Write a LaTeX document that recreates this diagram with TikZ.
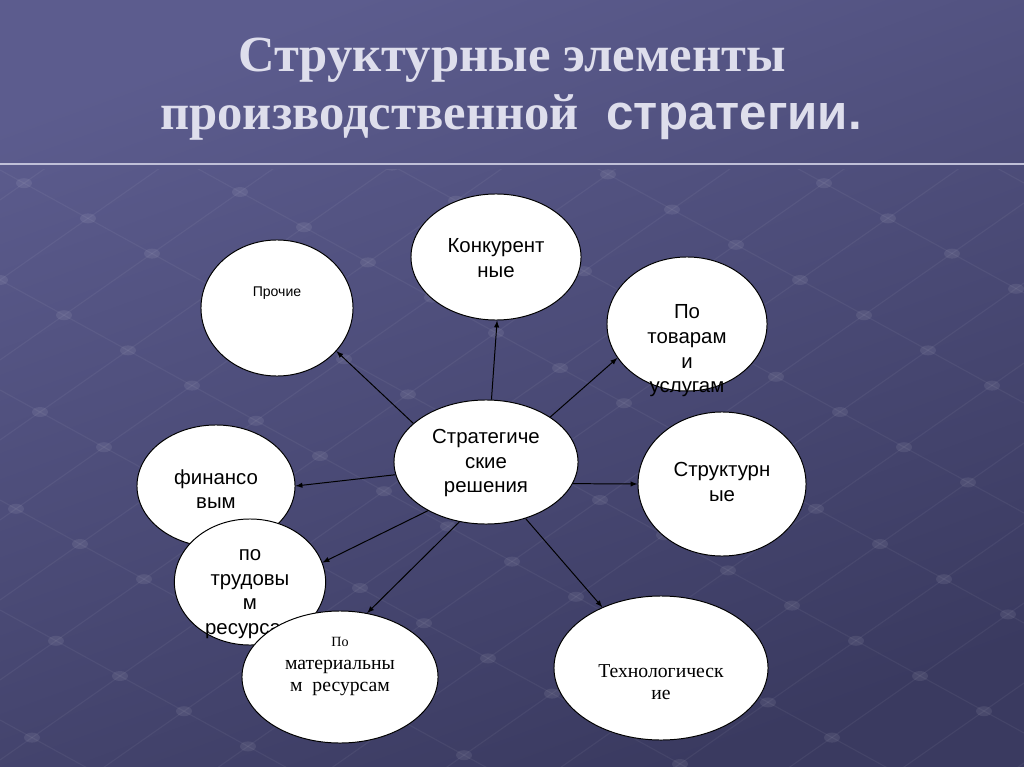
\documentclass[tikz,border=0pt]{standalone}
\usepackage{fontspec}
\setmainfont{Liberation Serif}
\setsansfont{Liberation Sans}
\usetikzlibrary{arrows,shapes,positioning,shapes.geometric}

\definecolor{bgtop}{RGB}{92,92,142}
\definecolor{bgbot}{RGB}{58,58,96}
\definecolor{titlegray}{RGB}{222,222,236}
\definecolor{rulegray}{RGB}{192,192,216}

\tikzset{
  oval/.style={ellipse, draw=black, fill=white, line width=0.7pt, inner sep=0pt},
  lbl/.style={align=center, inner sep=0pt, font=\sffamily\fontsize{14.5}{17.5}\selectfont},
  lblserif/.style={align=center, inner sep=0pt, font=\rmfamily\fontsize{14}{16}\selectfont},
  conn/.style={->, >=latex, line width=0.7pt},
  gridline/.style={white, opacity=0.05, line width=0.8pt},
  griddot/.style={white, opacity=0.08},
  titletext/.style={text=titlegray, inner sep=0pt, font=\rmfamily\bfseries\fontsize{36}{40}\selectfont},
}

\begin{document}
\begin{tikzpicture}[x=0.025cm,y=-0.025cm]
      % background and title
      \shade[top color=bgtop, bottom color=bgbot, shading angle=20] (0,0) rectangle (1024,767);
      \useasboundingbox (0,0) rectangle (1024,767);
      \begin{scope}
        \clip (0,170) rectangle (1024,767);
        \foreach \a in {-900,-790,...,800}
          \draw[gridline] (0,\a+300) -- (1024,\a+300+563);
        \foreach \b in {200,280,...,1700}
          \draw[gridline] (0,\b) -- (1024,\b-717);
        \foreach \a in {-900,-790,...,800}
          \foreach \b in {200,280,...,1700}
            \fill[griddot] ({(\b-\a-300)/1.25},{0.55*(\b-\a-300)/1.25+\a+300}) ellipse (8 and 5);
      \end{scope}
      \node[titletext, anchor=base] (title1) at (512,72) {Структурные элементы};
      \node[titletext, anchor=base west] (title2) at (160,130) {производственной};
      \node[titletext, anchor=base west, font=\sffamily\bfseries\fontsize{35}{38}\selectfont]
        (title3) at ([xshift=0.68cm]title2.base east) {стратегии.};
      \draw[rulegray, line width=1.4pt] (0,164) -- (1024,164);

      % ellipses with their texts
      \node[oval, minimum width=3.8cm, minimum height=3.4cm] (proch) at (277,308) {};
      \node[lbl, font=\sffamily\fontsize{10}{12}\selectfont] (proch-t) at (277,293) {Прочие};
      \node[oval, minimum width=4.25cm, minimum height=3.15cm] (konk) at (496,257) {};
      \node[lbl] (konk-t) at (496,258) {Конкурент\\ные};
      \node[oval, minimum width=4cm, minimum height=3.35cm] (tov) at (687,324) {};
      \node[lbl] (tov-t) at (687,351) {По\\товарам\\и\\услугам};
      \node[oval, minimum width=4.6cm, minimum height=3.1cm] (strat) at (486,462) {};
      \node[lbl] (strat-t) at (486,463) {Стратегиче\\ские\\решения};
      \node[oval, minimum width=4.2cm, minimum height=3.6cm] (struct) at (722,484) {};
      \node[lbl] (struct-t) at (722,482) {Структурн\\ые};
      \node[oval, minimum width=3.95cm, minimum height=3.05cm] (fin) at (216,486) {};
      \node[lbl] (fin-t) at (216,489) {финансо\\вым};
      \node[oval, minimum width=3.78cm, minimum height=3.15cm] (trud) at (250,582) {};
      \node[lbl] (trud-t) at (250,594) {по\\трудовы\\м\\ресурсам};
      \node[oval, minimum width=4.9cm, minimum height=3.3cm] (mat) at (340,677) {};
      \node[lblserif] (mat-t) at (340,667) {{\fontsize{10}{16}\selectfont По}\\материальны\\м\ \ ресурсам};
      \node[oval, minimum width=5.35cm, minimum height=3.6cm] (tech) at (661,668) {};
      \node[lblserif] (tech-t) at (661,682) {Технологическ\\ие};

      % arrows
      \draw[conn] (strat.152) -- (proch.-36);
      \draw[conn] (strat.85) -- (konk.-89);
      \draw[conn] (strat.35) -- (tov.-154);
      \draw[conn] (strat.-14) -- (struct.180);
      \draw[conn] (strat.188) -- (fin.0);
      \draw[conn] (strat.220) -- (trud.15);
      \draw[conn] (strat.246) -- (mat.67);
      \draw[conn] (strat.-55) -- (tech.134);
    \end{tikzpicture}
\end{document}
